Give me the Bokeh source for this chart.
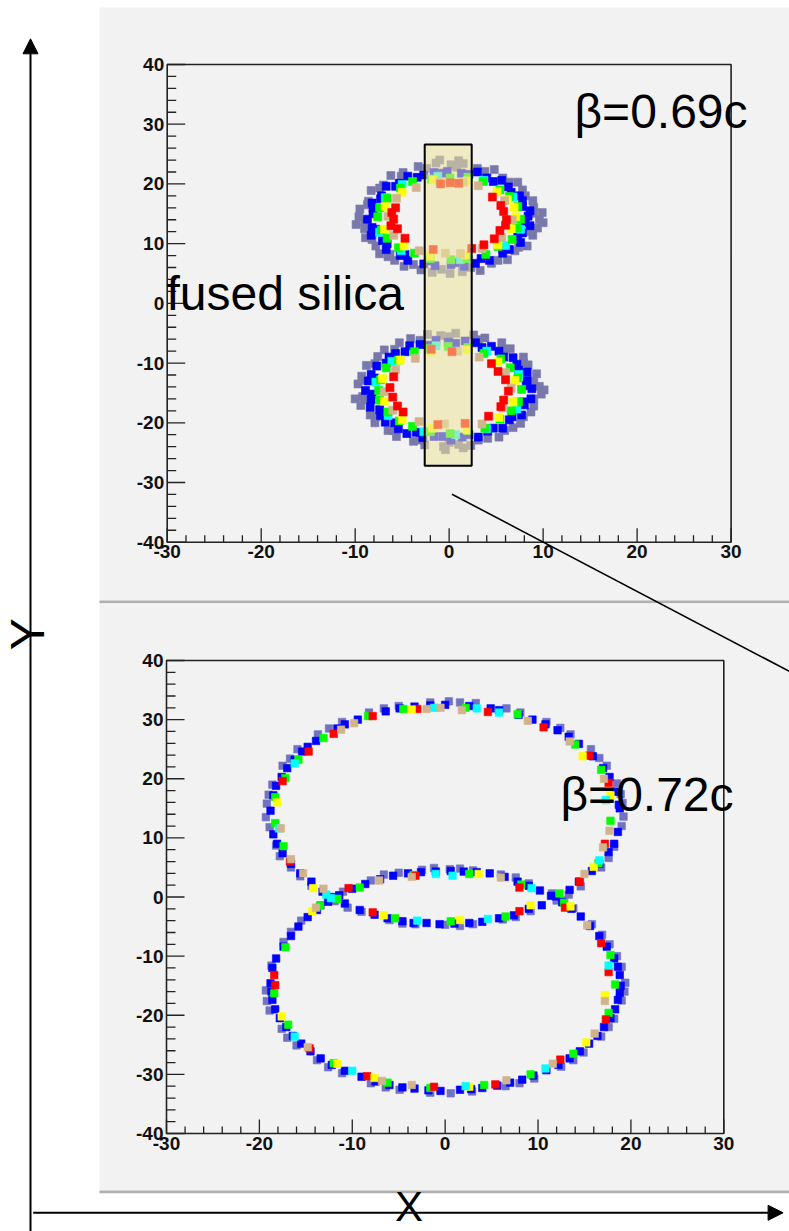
import math
from bokeh.plotting import figure
from bokeh.models import Range1d, Label, Arrow, NormalHead
from bokeh.embed import file_html
from bokeh.resources import INLINE
from bokeh.core.properties import value

# ---------------- data ----------------
# Upper panel, beta = 0.69c : hit positions per wavelength colour (x, y)
TOP_GRAY = [(9.6,14.0),(9.0,16.1),(8.9,17.2),(7.8,19.0),(7.3,20.3),(5.7,21.0),(4.8,22.4),(3.0,22.6),(1.5,23.4),(0.2,23.2),
            (-1.4,23.5),(-3.3,22.9),(-4.9,21.9),(-6.2,21.4),(-7.0,19.8),(-8.3,18.9),(-8.6,17.1),(-9.5,15.8),(-9.6,14.5),(-9.0,12.5),
            (-8.9,11.0),(-7.8,9.6),(-7.4,8.3),(-5.8,7.2),(-4.8,6.2),(-3.0,5.6),(-1.8,5.2),(0.1,5.0),(1.4,5.3),(3.3,5.5),
            (4.5,6.7),(6.2,7.3),(7.0,8.8),(8.3,9.6),(8.9,11.4),(9.4,12.6),(-9.9,13.2),(9.9,15.2),(10.0,13.5),(-1.0,24.0),
            (1.0,23.9),(-6.5,7.8),
            (9.0,15.1),(8.1,18.0),(6.4,20.3),(3.8,22.1),(0.8,22.8),(-2.4,22.6),(-5.1,21.3),(-7.4,19.3),(-8.7,16.5),(-9.0,13.6),
            (-8.2,10.7),(-6.3,8.2),(-3.8,6.5),(-0.8,5.7),(2.3,6.0),(5.2,7.2),(7.4,9.4),(8.7,12.0),
            (9.6,-13.9),(9.3,-11.8),(8.4,-10.3),(7.9,-9.0),(6.5,-7.6),(5.6,-6.6),(3.8,-5.8),(2.6,-5.3),(0.7,-5.0),(-0.9,-5.4),
            (-2.3,-5.2),(-4.1,-5.9),(-5.3,-6.6),(-6.9,-7.8),(-7.6,-8.9),(-8.8,-10.4),(-9.3,-12.2),(-9.7,-13.5),(-9.2,-15.6),(-9.4,-17.1),
            (-8.4,-18.7),(-7.9,-20.0),(-6.5,-21.3),(-5.6,-22.3),(-3.8,-23.1),(-2.6,-23.7),(-0.6,-24.0),(1.0,-23.6),(2.3,-23.8),(4.1,-22.6),
            (5.3,-22.4),(6.8,-20.8),(7.6,-20.1),(8.7,-18.2),(9.0,-17.2),(9.8,-15.2),(10.1,-14.5),(-10.0,-16.0),(-0.4,-24.5),(1.5,-24.2),
            (9.0,-13.0),(7.9,-10.0),(5.9,-7.7),(3.1,-6.1),(0.0,-5.6),(-3.1,-6.2),(-5.8,-7.7),(-7.9,-10.1),(-9.0,-12.9),(-9.0,-16.1),
            (-7.8,-19.0),(-5.9,-21.3),(-3.1,-22.9),(0.0,-23.3),(3.1,-22.9),(5.9,-21.3),(7.9,-19.0),(9.0,-16.0)]
TOP_BLUE = [(8.4,14.6),(8.6,15.5),(7.8,17.2),(7.5,18.0),(6.3,19.5),(5.6,20.6),(4.0,21.0),(3.0,22.0),(1.3,21.8),(-0.2,22.1),
            (-1.6,21.9),(-2.7,21.5),(-4.4,21.3),(-5.3,20.1),(-6.7,19.6),(-7.2,18.0),(-8.2,16.8),(-8.1,15.9),(-8.7,14.1),(-8.2,12.7),
            (-8.3,11.4),(-7.1,10.5),(-6.7,9.0),(-5.2,8.0),(-4.4,7.2),(-2.7,6.6),(-1.5,6.3),(0.2,6.5),(1.6,6.2),(2.8,6.7),
            (4.3,7.2),(5.7,8.4),(6.4,9.0),(7.6,10.2),(7.8,11.8),(8.6,13.0),
            (7.8,16.2),(6.6,18.6),(4.7,20.4),(2.1,21.6),(-0.7,21.8),(-3.4,21.1),(-5.7,19.6),(-7.3,17.5),(-8.1,15.0),(-7.8,12.4),
            (-6.6,10.0),(-4.7,8.2),(-2.1,7.1),(0.7,6.8),(3.4,7.5),(5.7,9.0),(7.3,11.1),(8.1,13.6),
            (8.8,-14.3),(8.3,-12.9),(8.3,-11.5),(7.2,-10.2),(6.8,-9.1),(5.3,-8.0),(4.5,-7.2),(2.8,-6.6),(1.7,-6.3),(-0.1,-6.5),
            (-1.4,-6.2),(-3.1,-6.9),(-4.2,-7.1),(-5.7,-8.4),(-6.4,-9.0),(-7.7,-10.5),(-8.3,-11.9),(-8.6,-13.0),(-8.9,-14.6),(-8.3,-16.1),
            (-8.4,-17.4),(-7.3,-18.8),(-6.8,-19.9),(-5.4,-21.0),(-4.5,-21.8),(-2.8,-22.5),(-1.6,-22.3),(0.2,-22.9),(1.4,-22.4),(3.1,-22.4),
            (4.1,-21.4),(5.7,-20.9),(6.4,-19.5),(7.7,-18.7),(8.0,-17.0),(8.7,-16.0),
            (8.2,-13.8),(7.4,-11.2),(5.8,-9.0),(3.5,-7.4),(0.7,-6.7),(-2.1,-7.0),(-4.7,-8.1),(-6.7,-10.0),(-7.9,-12.5),(-8.2,-15.2),
            (-7.4,-17.8),(-5.8,-20.0),(-3.5,-21.6),(-0.7,-22.3),(2.1,-22.0),(4.7,-20.9),(6.7,-19.0),(7.9,-16.5)]
TOP_CYAN = [(6.8,17.8),(3.7,20.6),(-1.2,21.3),(-5.0,19.9),(-6.8,17.7),(-7.4,11.9),(-5.1,8.8),(1.2,7.3),(6.0,9.7),(7.6,12.4),
            (7.4,-11.9),(4.0,-8.0),(-1.4,-7.1),(-6.1,-9.7),(-7.8,-13.2),(-6.5,-18.8),(-2.7,-21.5),(0.7,-22.0),(4.0,-21.0),(7.2,-17.7)]
TOP_GREEN = [(7.6,14.1),(7.3,16.2),(6.4,17.9),(5.4,19.0),(3.6,20.4),(2.0,21.1),(0.1,21.0),(-1.9,20.8),(-3.9,20.4),(-5.2,19.3),
             (-6.6,17.6),(-7.4,16.0),(-7.6,14.5),(-7.2,12.3),(-6.6,10.9),(-5.4,9.3),(-3.7,8.4),(-2.0,7.5),(0.2,7.3),(1.9,7.5),
             (3.9,8.2),(5.2,9.5),(6.7,10.7),(7.2,12.6),
             (7.7,-14.4),(7.3,-12.5),(6.5,-10.8),(5.5,-9.3),(3.7,-8.4),(2.0,-7.4),(-0.1,-7.2),(-2.1,-7.6),(-3.7,-8.1),(-5.4,-9.5),
             (-6.7,-10.8),(-7.3,-12.8),(-7.5,-14.6),(-7.4,-16.2),(-6.5,-18.2),(-5.3,-19.7),(-3.9,-20.6),(-2.0,-21.5),(0.1,-21.8),(2.0,-21.3),
             (3.8,-20.9),(5.4,-19.4),(6.6,-18.0),(7.4,-16.5)]
TOP_YELLOW = [(6.9,16.1),(5.1,18.7),(1.9,20.5),(-1.7,20.7),(-5.0,18.6),(-6.8,16.2),(-6.9,12.4),(-4.8,9.6),(-2.0,7.9),(1.7,8.1),
              (5.2,9.8),(6.6,12.5),(7.1,14.5),(6.2,17.4),
              (7.0,-12.9),(5.2,-9.8),(2.0,-7.8),(-1.9,-8.1),(-5.2,-9.5),(-7.1,-12.6),(-6.9,-16.4),(-5.0,-19.5),(-1.8,-20.9),(1.9,-21.2),
              (5.3,-19.1),(6.8,-16.5)]
TOP_TAN = [(6.7,14.0),(5.9,17.2),(3.1,19.7),(1.5,20.3),(-1.0,20.4),(-3.5,19.4),(-5.6,17.6),(-6.5,14.6),(-5.9,11.4),(-3.2,8.8),
           (-0.4,8.4),(1.2,8.3),(3.5,9.2),(5.6,11.0),
           (6.6,-14.2),(6.0,-11.6),(3.2,-9.0),(0.9,-8.0),(-3.6,-9.2),(-5.7,-11.1),(-6.9,-14.8),(-6.0,-17.9),(-3.2,-19.8),(-0.5,-20.2),
           (3.5,-20.2),(5.7,-17.5)]
TOP_RED = [(6.1,14.0),(5.8,15.4),(5.5,16.4),(4.6,17.8),(6.0,13.1),(5.4,12.2),(4.8,10.8),(3.7,9.8),(2.4,9.2),(-5.7,16.0),
           (-6.1,15.2),(-5.9,14.1),(-6.2,13.0),(-5.5,12.5),(-4.7,10.9),(0.1,20.2),(-0.9,20.0),(1.0,20.1),(-1.7,9.0),
           (6.3,-14.7),(6.0,-12.8),(5.2,-11.4),(4.5,-10.1),(5.8,-16.2),(5.5,-17.3),(4.2,-18.9),(-5.9,-12.3),(-6.3,-14.1),(-6.0,-15.7),
           (-5.5,-17.2),(-4.9,-18.2),(-1.9,-7.7),(0.3,-8.1),(-1.2,-20.3),(1.7,-20.1)]

# Lower panel, beta = 0.72c
BOT_GRAY = [(-19.3,13.5),(-19.2,15.8),(-18.6,19.0),(-17.5,22.2),(-15.9,25.0),(-13.7,27.5),(-11.1,29.6),(-8.2,31.2),(-5.0,32.3),(-1.6,32.9),
            (1.6,32.9),(3.3,32.8),(8.1,31.2),(10.9,29.6),(13.5,27.5),(15.7,25.0),(17.4,22.2),(18.5,19.2),(19.1,15.9),(19.2,13.6),
            (19.0,12.0),(18.2,8.5),(16.8,5.0),(14.6,1.8),(12.0,-0.6),(9.2,-2.4),(6.2,-3.8),(3.0,-4.6),(0.0,-4.7),(-3.2,-4.6),
            (-6.0,-3.9),(-9.0,-2.5),(-11.9,-0.7),(-14.4,1.9),(-16.6,5.0),(-18.2,8.7),(-18.9,11.8),
            (0.5,4.7),(-2.5,4.6),(-5.0,4.1),(-8.0,2.8),(-11.0,0.9),(-13.4,-1.4),(-15.5,-4.0),(-17.4,-7.6),(-18.7,-11.6),(3.0,4.5),
            (6.0,3.8),(9.0,2.3),(11.5,0.6),(13.8,-1.9),(15.8,-4.6),(17.7,-8.0),(19.0,-11.8),
            (-19.3,-15.8),(-18.9,-19.2),(-17.6,-22.3),(-16.0,-25.1),(-13.8,-27.6),(-11.1,-29.8),(-8.0,-31.5),(-4.9,-32.6),(-1.6,-33.1),(2.9,-32.9),
            (6.5,-32.0),(9.6,-30.7),(12.5,-28.7),(14.9,-26.3),(16.8,-23.6),(18.2,-20.6),(19.0,-17.5),(19.4,-14.5),
            (-19.0,17.3),(-16.7,23.4),(-12.5,28.5),(-6.6,31.9),(0.4,33.1),(6.6,31.9),(12.4,28.6),(16.6,23.5),(18.9,17.4),
            (17.6,6.6),(13.3,0.4),(7.6,-3.4),(1.6,-4.9),(-4.6,-4.5),(-10.5,-1.8),(-15.6,3.5),(-17.8,6.9),
            (-1.2,4.9),(-6.6,3.8),(-12.1,-0.3),(-16.6,-5.9),(1.6,4.8),(7.6,3.3),(12.8,-0.6),(16.9,-6.4),(18.5,-10.0),
            (-19.2,-17.6),(-17.0,-23.8),(-12.6,-28.8),(-6.4,-32.2),(0.6,-33.2),(8.0,-31.5),(13.8,-27.6),(17.6,-22.0),(19.3,-16.0)]
BOT_BLUE = [(-18.8,14.6),(-18.5,17.2),(-17.6,20.3),(-16.2,23.2),(-14.8,25.4),(-13.9,26.4),(-11.6,28.5),(-9.4,30.0),(-6.4,31.4),(-3.3,32.2),
            (0.0,32.5),(2.6,32.3),(5.8,31.6),(9.4,30.0),(12.1,28.2),(14.4,25.9),(15.9,23.8),(17.7,20.3),(18.4,17.8),(18.8,15.0),
            (18.6,11.0),(17.6,7.6),(15.8,4.4),(13.4,1.2),(10.4,-1.4),(7.4,-3.1),(4.0,-4.2),(1.0,-4.5),(-2.0,-4.4),(-4.6,-4.1),
            (-7.6,-3.0),(-10.8,-1.1),(-13.2,0.9),(-15.6,4.0),(-17.5,7.4),(-18.5,10.6),
            (-1.0,4.3),(-4.0,4.0),(-7.0,3.0),(-10.0,1.4),(-12.6,-0.8),(-14.8,-3.4),(-16.6,-6.6),(-18.2,-10.4),(2.0,4.3),(4.8,4.0),
            (7.8,2.6),(10.2,1.1),(12.6,-0.9),(14.6,-3.3),(16.6,-6.6),(18.2,-10.4),(18.8,-13.2),
            (-18.8,-14.6),(-18.6,-17.4),(-17.8,-20.5),(-16.4,-23.5),(-14.5,-26.1),(-12.2,-28.4),(-9.0,-30.4),(-6.0,-31.8),(-3.3,-32.4),(-0.5,-32.8),
            (1.6,-32.6),(4.0,-32.3),(7.0,-31.4),(9.5,-30.2),(12.2,-28.4),(14.5,-26.1),(16.4,-23.5),(17.8,-20.5),(18.6,-17.4),(18.9,-15.0),
            (-18.2,18.8),(-17.0,21.8),(-15.4,24.6),(-10.8,29.2),(-4.9,31.9),(-1.6,32.4),(4.9,31.9),(7.9,30.8),(10.8,29.2),(13.3,27.1),
            (17.0,21.8),(18.7,15.6),
            (18.2,9.0),(16.6,5.6),(14.4,2.6),(11.9,0.1),(9.0,-2.0),(5.8,-3.6),(2.6,-4.4),(-0.6,-4.6),(-3.4,-4.4),(-6.2,-3.6),
            (-9.2,-2.2),(-12.0,0.0),(-14.4,2.6),(-16.6,5.6),(-18.1,9.0),
            (0.6,4.4),(-2.6,4.2),(-5.6,3.6),(-8.6,2.2),(-11.4,0.3),(-13.8,-2.2),(-15.8,-5.0),(-17.4,-8.4),(-18.6,-12.0),(3.4,4.2),
            (6.4,3.4),(9.0,1.9),(11.4,0.2),(13.6,-2.0),(15.6,-4.9),(17.4,-8.4),(18.6,-11.8),
            (-18.7,-16.0),(-18.3,-19.0),(-17.1,-22.0),(-15.5,-24.8),(-13.4,-27.3),(-10.8,-29.4),(-7.5,-31.2),(-4.6,-32.2),(-1.8,-32.7),(2.8,-32.5),
            (5.6,-31.9),(8.3,-30.9),(10.9,-29.3),(13.4,-27.3),(15.5,-24.8),(17.1,-22.0),(18.3,-19.0),(18.8,-16.2)]
BOT_GREEN = [(-18.3,16.9),(-17.2,20.1),(-15.8,23.2),(-13.1,26.9),(-8.3,30.6),(-4.5,31.8),(2.2,32.0),(7.8,30.9),(14.0,25.8),(16.8,21.5),
             (17.8,12.9),(16.5,5.7),(12.3,0.6),(6.5,-3.3),(0.6,-4.1),(-5.4,-3.6),(-11.6,-0.3),(-17.4,8.6),(-18.3,12.5),
             (-13.5,-1.5),(-9.2,1.6),(-3.4,3.7),(2.6,3.9),(8.2,2.1),(12.8,-1.0),(17.8,-9.8),(18.3,-14.8),(17.6,-19.6),(13.8,-26.5),
             (9.2,-30.0),(4.2,-31.8),(-1.6,-32.3),(-6.2,-31.4),(-12.0,-28.1),(-16.9,-21.6),(-18.4,-16.3),(-17.2,-8.5)]
BOT_RED = [(-14.7,24.6),(-12.0,27.6),(-7.8,30.6),(-3.0,31.8),(4.6,31.3),(10.6,28.7),(15.5,23.9),(17.6,19.3),(17.2,9.0),(14.5,2.6),
           (8.0,-2.4),(-7.8,-2.6),(-16.7,6.0),(-17.5,19.6),
           (-10.4,1.5),(-3.2,3.6),(8.0,1.6),(12.9,-1.8),(16.8,-7.8),(17.6,-12.7),(17.3,-20.7),(12.4,-27.5),(5.4,-31.7),(-1.2,-32.1),
           (-8.4,-30.3),(-14.6,-25.6),(-18.3,-14.9),(-18.4,-13.2)]
BOT_YELLOW = [(-18.1,16.0),(-14.2,1.5),(-6.6,-3.1),(1.6,-3.9),(9.2,-1.4),(14.8,23.8),(17.8,17.2),(16.0,5.1),(-3.6,31.7),
              (-14.3,-2.4),(3.6,3.9),(13.5,-1.6),(17.2,-16.6),(15.2,-24.6),(2.6,-32.1),(-7.6,-30.6),(-17.6,-20.2),(-11.6,-28.2)]
BOT_CYAN = [(-16.2,22.6),(-17.9,11.6),(-1.2,32.0),(3.4,31.9),(5.8,31.2),(17.3,16.4),(16.6,6.2),(4.6,-3.7),(-3.0,-4.0),(-12.8,0.4),
            (-12.3,-0.2),(-1.0,3.9),(0.8,3.6),(9.3,1.5),(17.6,-11.6),(10.8,-29.0),(2.2,-32.0),(-10.0,-29.4),(-16.2,-23.6)]
BOT_TAN = [(-11.2,28.3),(-9.8,29.4),(-2.0,31.8),(-0.5,32.0),(1.8,31.6),(8.9,29.8),(13.4,26.3),(17.1,20.0),(17.7,11.2),(17.0,8.4),
           (15.0,3.9),(-15.3,4.0),(-16.6,6.4),(-17.7,11.6),(-13.1,1.4),
           (-13.9,-1.8),(-7.1,2.8),(-3.6,3.4),(6.0,3.3),(15.3,-4.8),(17.2,-17.6),(16.1,-23.1),(11.6,-28.2),(6.6,-31.0),(-3.6,-31.8),
           (-6.8,-31.1),(-14.8,-25.4)]

# fused-silica bar in the upper panel (left, right, bottom, top)
SILICA_BOX = (-2.6, 2.4, -27.2, 26.6)

# axis ticks (both panels)
X_MAJOR = [-30, -20, -10, 0, 10, 20, 30]
X_MINOR = [-28, -26, -24, -22, -18, -16, -14, -12, -8, -6, -4, -2, 2, 4, 6, 8, 12, 14, 16, 18, 22, 24, 26, 28]
Y_MAJOR = [-40, -30, -20, -10, 0, 10, 20, 30, 40]
Y_MINOR = [-38, -36, -34, -32, -28, -26, -24, -22, -18, -16, -14, -12, -8, -6, -4, -2,
           2, 4, 6, 8, 12, 14, 16, 18, 22, 24, 26, 28, 32, 34, 36, 38]
X_LABELS = ["-30", "-20", "-10", "0", "10", "20", "30"]
Y_LABELS = ["-40", "-30", "-20", "-10", "0", "10", "20", "30", "40"]
X_LIM = (-30, 30)
Y_LIM = (-40, 40)

TOP_TEXT = "\u03b2=0.69c"
BOT_TEXT = "\u03b2=0.72c"
BAR_TEXT = "fused silica"

COLORS = {"gray": "#7878aa", "gray2": "#7272c2", "blue": "#0000ff", "cyan": "#00ffff", "green": "#00ff00",
          "yellow": "#ffff00", "tan": "#d2b48c", "red": "#ff0000"}

# ---------------- page layout (pixels) ----------------
W, H = 789, 1231
P1_FRAME = (166.7, 730.6, 64.0, 541.7)     # left, right, top, bottom
P2_FRAME = (166.0, 723.3, 660.0, 1133.0)
PANEL = "#f2f2f2"
EDGE = "#b0b0b0"
TICK_FONT = "'Liberation Sans', Arial, sans-serif"
BIG_FONT = "'Liberation Sans', Arial, sans-serif"
LABEL_SHIFT = 18   # Label baseline correction on this inverted pixel range

p = figure(width=W, height=H, x_range=Range1d(0, W), y_range=Range1d(H, 0),
           output_backend="svg", toolbar_location=None, title=None, min_border=0,
           x_axis_type=None, y_axis_type=None)
p.outline_line_color = None
p.background_fill_color = "white"
p.border_fill_color = "white"


def sub_ranges(frame):
    l, r, t, b = frame
    k = (X_LIM[1] - X_LIM[0]) / (r - l)
    m = (Y_LIM[1] - Y_LIM[0]) / (b - t)
    return (Range1d(X_LIM[0] - l * k, X_LIM[1] + (W - r) * k),
            Range1d(Y_LIM[0] - (H - b) * m, Y_LIM[1] + t * m))


x1, y1 = sub_ranges(P1_FRAME)
x2, y2 = sub_ranges(P2_FRAME)
p.extra_x_ranges = {"x1": x1, "x2": x2}
p.extra_y_ranges = {"y1": y1, "y2": y2}

# panel backgrounds and their edges (page pixels)
p.quad(left=[99, 99, 99, 99], right=[800, 800, 800, 800], top=[7, 600, 603.7, 1190],
       bottom=[600, 602.7, 1190, 1192.7], fill_color=[PANEL, EDGE, PANEL, EDGE], line_color=None)


def draw_axes(xn, yn):
    kw = dict(x_range_name=xn, y_range_name=yn)
    p.quad(left=[X_LIM[0]], right=[X_LIM[1]], bottom=[Y_LIM[0]], top=[Y_LIM[1]],
           fill_color=None, line_color="#222222", line_width=1.6, **kw)
    p.ray(x=X_MAJOR, y=[Y_LIM[0]] * len(X_MAJOR), length=14, length_units="screen",
          angle=math.pi / 2, line_color="#222222", line_width=1.3, **kw)
    p.ray(x=X_MINOR, y=[Y_LIM[0]] * len(X_MINOR), length=7, length_units="screen",
          angle=math.pi / 2, line_color="#222222", line_width=1.3, **kw)
    p.ray(x=[X_LIM[0]] * len(Y_MAJOR), y=Y_MAJOR, length=18, length_units="screen",
          angle=0, line_color="#222222", line_width=1.3, **kw)
    p.ray(x=[X_LIM[0]] * len(Y_MINOR), y=Y_MINOR, length=9, length_units="screen",
          angle=0, line_color="#222222", line_width=1.3, **kw)
    p.text(x=X_MAJOR, y=[Y_LIM[0]] * len(X_MAJOR), text=X_LABELS, y_offset=3,
           text_font=value(TICK_FONT), text_font_size=value("19px"), text_font_style="bold",
           text_color="#111111", text_align="center", text_baseline="top", **kw)
    p.text(x=[X_LIM[0]] * len(Y_MAJOR), y=Y_MAJOR, text=Y_LABELS, x_offset=-3,
           text_font=value(TICK_FONT), text_font_size=value("19px"), text_font_style="bold",
           text_color="#111111", text_align="right", text_baseline="middle", **kw)


def scatter(pts, color, size, xn, yn):
    p.scatter([q[0] for q in pts], [q[1] for q in pts], marker="square", size=size,
              fill_color=color, line_color=color, line_width=0.6, x_range_name=xn, y_range_name=yn)


# upper panel
draw_axes("x1", "y1")
for pts, c in ((TOP_GRAY, "gray"), (TOP_BLUE, "blue"), (TOP_CYAN, "cyan"), (TOP_GREEN, "green"),
               (TOP_YELLOW, "yellow"), (TOP_TAN, "tan"), (TOP_RED, "red")):
    scatter(pts, COLORS[c], 8, "x1", "y1")
l, r, b, t = SILICA_BOX
p.quad(left=[l], right=[r], bottom=[b], top=[t], fill_color="#ece49a", fill_alpha=0.55,
       line_color="black", line_width=2, x_range_name="x1", y_range_name="y1")

# lower panel
draw_axes("x2", "y2")
for pts, c in ((BOT_GRAY, "gray2"), (BOT_BLUE, "blue"), (BOT_GREEN, "green"), (BOT_RED, "red"),
               (BOT_YELLOW, "yellow"), (BOT_CYAN, "cyan"), (BOT_TAN, "tan")):
    scatter(pts, COLORS[c], 7.5, "x2", "y2")

# pointer line from the silica bar towards the lower panel (page pixels)
p.segment(x0=[451.5], y0=[493.7], x1=[800], y1=[676.7], line_color="black", line_width=1.6)

# texts (page pixels; baseline positions)
for x, y, txt in ((166, 311, BAR_TEXT), (574, 129, TOP_TEXT), (560, 812, BOT_TEXT)):
    p.add_layout(Label(x=x, y=y - LABEL_SHIFT, text=txt, text_font=BIG_FONT, text_font_size="48px",
                       text_color="black", text_baseline="alphabetic", text_align="left"))

# outer X / Y arrows
p.add_layout(Arrow(end=NormalHead(size=15, fill_color="black", line_color="black"),
                   x_start=30, y_start=1240, x_end=30, y_end=38.3, line_color="black", line_width=2))
p.add_layout(Arrow(end=NormalHead(size=15, fill_color="black", line_color="black"),
                   x_start=32.7, y_start=1212.3, x_end=782.6, y_end=1212.3, line_color="black", line_width=2))
p.add_layout(Label(x=45 - LABEL_SHIFT, y=633.7, text="Y", angle=math.pi / 2, text_font=BIG_FONT,
                   text_font_size="48px", text_color="black", text_baseline="alphabetic", text_align="center"))
p.add_layout(Label(x=408.6, y=1222 - 16, text="X", text_font=BIG_FONT, text_font_size="42px",
                   text_color="black", text_baseline="alphabetic", text_align="center"))

open("out.html", "w").write(file_html(p, INLINE))
